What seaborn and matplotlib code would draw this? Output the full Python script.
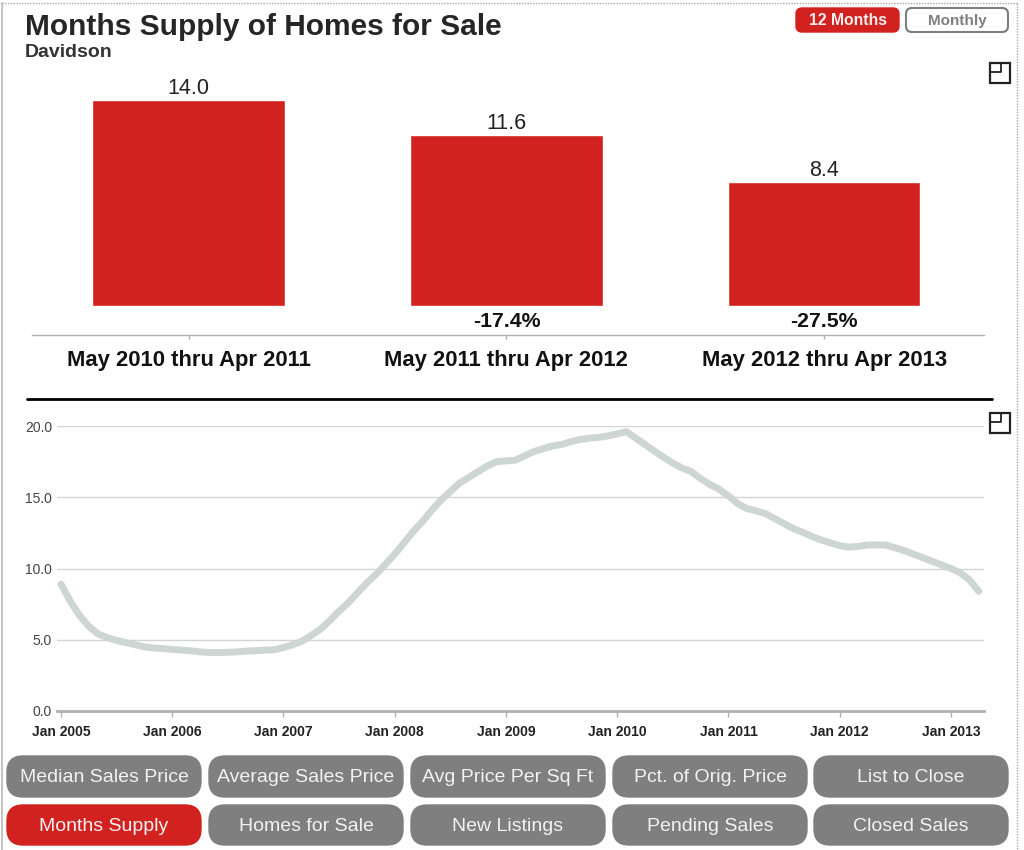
import numpy as np
import pandas as pd
import seaborn as sns
import matplotlib.pyplot as plt
from matplotlib.patches import FancyBboxPatch, Rectangle

# bars
periods = ["May 2010 thru Apr 2011", "May 2011 thru Apr 2012", "May 2012 thru Apr 2013"]
supply_12m = [14.0, 11.6, 8.4]
changes = ["", "-17.4%", "-27.5%"]

# monthly line, Jan 2005 - Apr 2013
y2005 = [8.9, 7.7, 6.7, 5.95, 5.4, 5.15, 4.95, 4.8, 4.65, 4.5, 4.42, 4.38]
y2006 = [4.32, 4.28, 4.22, 4.15, 4.1, 4.1, 4.12, 4.15, 4.2, 4.23, 4.27, 4.3]
y2007 = [4.45, 4.65, 4.9, 5.3, 5.75, 6.35, 7.0, 7.6, 8.3, 9.0, 9.6, 10.3]
y2008 = [11.0, 11.8, 12.6, 13.3, 14.1, 14.8, 15.4, 16.0, 16.4, 16.8, 17.2, 17.5]
y2009 = [17.55, 17.6, 17.9, 18.2, 18.4, 18.6, 18.7, 18.9, 19.05, 19.15, 19.2, 19.3]
y2010 = [19.45, 19.6, 19.15, 18.7, 18.25, 17.8, 17.4, 17.05, 16.8, 16.3, 15.9, 15.55]
y2011 = [15.1, 14.55, 14.2, 14.05, 13.85, 13.5, 13.15, 12.8, 12.55, 12.25, 12.0, 11.8]
y2012 = [11.6, 11.5, 11.55, 11.65, 11.65, 11.65, 11.45, 11.25, 11.0, 10.75, 10.5, 10.25]
y2013 = [10.0, 9.7, 9.2, 8.4]
year_ticks = ["Jan 2005", "Jan 2006", "Jan 2007", "Jan 2008", "Jan 2009",
              "Jan 2010", "Jan 2011", "Jan 2012", "Jan 2013"]
y_ticks = [0, 5, 10, 15, 20]

buttons_top = ["Median Sales Price", "Average Sales Price", "Avg Price Per Sq Ft",
               "Pct. of Orig. Price", "List to Close"]
buttons_bottom = ["Months Supply", "Homes for Sale", "New Listings", "Pending Sales", "Closed Sales"]

RED = "#d2221f"
BTN = "#7f7f7f"
W, H = 1024, 850

sns.set_theme(style="white")
plt.rcParams['font.family'] = ['Liberation Sans', 'DejaVu Sans']

fig = plt.figure(figsize=(W / 100, H / 100), dpi=100, facecolor="white")


def px_axes(left, top, right, bottom):
    return fig.add_axes([left / W, 1 - bottom / H, (right - left) / W, (bottom - top) / H])


# page layer, y runs downward in pixels
bg = fig.add_axes([0, 0, 1, 1])
bg.set_xlim(0, W)
bg.set_ylim(H, 0)
bg.axis("off")

bg.plot([2, 1017], [3, 3], color="#a8a8a8", lw=1, ls=(0, (1, 1)))
bg.plot([1017, 1017], [3, 850], color="#a8a8a8", lw=1, ls=(0, (1, 1)))
bg.plot([1.5, 1.5], [3, 850], color="#c4c4c4", lw=1.5)
bg.plot([27, 992], [399, 399], color="black", lw=2)

bg.text(25, 26.5, "Months Supply of Homes for Sale", fontsize=21.5, fontweight="bold",
        color="#262626", va="center", ha="left")
bg.text(25, 52, "Davidson", fontsize=14, fontweight="bold", color="#333333",
        va="center", ha="left")


def pill(x0, y0, x1, y1, fc, ec, r=10):
    bg.add_patch(FancyBboxPatch((x0 + r, y0 + r), x1 - x0 - 2 * r, y1 - y0 - 2 * r,
                                boxstyle=f"round,pad={r},rounding_size={r}",
                                fc=fc, ec=ec, lw=1, mutation_aspect=1))


pill(796, 8, 899, 32, RED, RED, r=6)
bg.text(848, 20.5, "12 Months", fontsize=11.3, fontweight="bold", color="#f7eeee", ha="center", va="center")
pill(906, 8, 1008, 32, "white", BTN, r=6)
bg.add_patch(FancyBboxPatch((912, 14), 90, 12, boxstyle="round,pad=6,rounding_size=6",
                            fc="none", ec=BTN, lw=1.5))
bg.text(957, 20.5, "Monthly", fontsize=11, fontweight="bold", color=BTN, ha="center", va="center")

# expand icons
for ix, iy in [(990, 63), (990, 413)]:
    bg.add_patch(Rectangle((ix, iy), 19.5, 20, fc="white", ec="#222222", lw=1.6))
    bg.plot([ix, ix + 11, ix + 11], [iy + 9, iy + 9, iy], color="#222222", lw=1.3)

# bottom buttons
slots = [(7, 201), (209, 403), (411, 605), (613, 807), (814, 1008)]
for (x0, x1), label in zip(slots, buttons_top):
    pill(x0, 756, x1, 797, BTN, BTN, r=16)
    bg.text((x0 + x1) / 2, 778, label, fontsize=14, color="#f2f2f2", ha="center", va="center")
for i, ((x0, x1), label) in enumerate(zip(slots, buttons_bottom)):
    fc = RED if i == 0 else BTN
    pill(x0, 805, x1, 845, fc, fc, r=16)
    bg.text((x0 + x1) / 2, 826.5, label, fontsize=14, color="#f2f2f2", ha="center", va="center")

# top bar chart
ax1 = px_axes(32, 80, 984, 335)
ax1.patch.set_alpha(0)
bars = pd.DataFrame({"period": periods, "supply": supply_12m})
sns.barplot(data=bars, x="period", y="supply", color=RED, saturation=1, width=0.606, ax=ax1)
ax1.set_xlim(-0.493, 2.503)
ax1.set_ylim(-1.97, 15.37)
ax1.set_xlabel("")
ax1.set_ylabel("")
ax1.set_yticks([])
sns.despine(ax=ax1, left=True)
ax1.spines["bottom"].set_color("#b0b0b0")
ax1.spines["bottom"].set_linewidth(1)
ax1.tick_params(axis="x", bottom=True, length=3, width=1, color="#b0b0b0", pad=8)
ax1.set_xticks(range(3))
ax1.set_xticklabels(periods, fontsize=15.8, fontweight="bold", color="#111111")
for i, v in enumerate(supply_12m):
    ax1.text(i, v + 0.08, f"{v:.1f}", fontsize=15.5, color="#222222", ha="center", va="bottom")
    if changes[i]:
        ax1.text(i, -1.03, changes[i], fontsize=15.3, fontweight="bold", color="#111111", ha="center", va="center")

# monthly line chart
ax2 = px_axes(57, 426, 984, 711)
ax2.patch.set_alpha(0)
months = y2005 + y2006 + y2007 + y2008 + y2009 + y2010 + y2011 + y2012 + y2013
monthly = pd.DataFrame({"month": pd.date_range("2005-01-01", periods=len(months), freq="MS"), "supply": months})
monthly["t"] = np.arange(len(months))
ax2.set_axisbelow(True)
ax2.grid(axis="y", color="#d4d4d4", lw=1)
sns.lineplot(data=monthly, x="t", y="supply", color="#cdd6d3", lw=5, ax=ax2, zorder=3,
             solid_capstyle="round", solid_joinstyle="round")
ax2.set_xlim(-4 / 9.27, (984 - 61) / 9.27)
ax2.set_ylim(0, 20)
ax2.set_xlabel("")
ax2.set_ylabel("")
ax2.set_yticks(y_ticks)
ax2.set_yticklabels([f"{v:.1f}" for v in y_ticks], fontsize=10, color="#444444")
ax2.set_xticks(np.arange(len(year_ticks)) * 12)
ax2.set_xticklabels(year_ticks, fontsize=10, fontweight="bold", color="#222222")
ax2.tick_params(axis="x", bottom=True, length=4, width=1, color="#b0b0b0", pad=6)
ax2.tick_params(axis="y", left=False, length=0, pad=3.6)
sns.despine(ax=ax2, left=True)
ax2.spines["bottom"].set_color("#b0b0b0")
ax2.spines["bottom"].set_linewidth(2)

fig.savefig("out.png", dpi=100)
